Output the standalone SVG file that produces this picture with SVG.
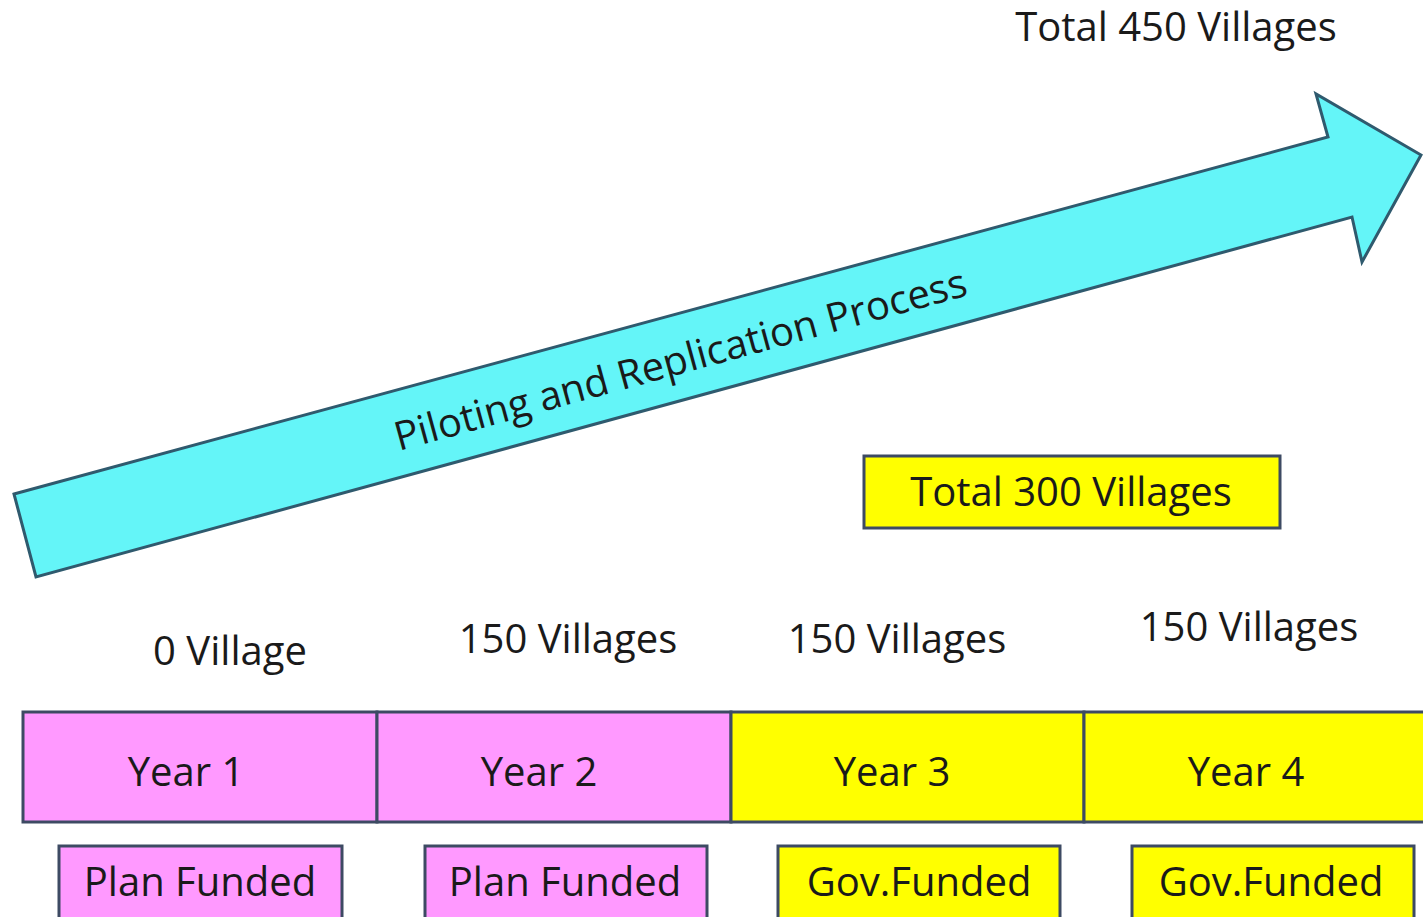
<svg xmlns="http://www.w3.org/2000/svg" width="1423" height="917" viewBox="0 0 1423 917">
<style>
text{font-family:"Open Sans","Liberation Sans",sans-serif;fill:#1a1a1a;text-anchor:middle}
.lbl{font-size:40px}
.box{stroke:#3d4a63;stroke-width:3}
.pink{fill:#ff99ff}
.yel{fill:#ffff00}
</style>
<rect width="1423" height="917" fill="#ffffff"/>
<g id="arrow">
<polygon points="14,494 1328,137 1316,94 1421,155 1362,262 1352,217 36,577" fill="#64f5f8" stroke="#2f5a6e" stroke-width="3" stroke-linejoin="miter"/>
<text class="lbl" transform="translate(684,373) rotate(-15.3)" font-size="41">Piloting and Replication Process</text>
</g>
<g id="total450"><text class="lbl" x="1176" y="41">Total 450 Villages</text></g>
<g id="total300">
<rect class="box yel" x="864" y="456" width="416" height="72"/>
<text class="lbl" x="1071" y="506">Total 300 Villages</text>
</g>
<g id="v0"><text class="lbl" x="230" y="665">0 Village</text></g>
<g id="v1"><text class="lbl" x="568" y="653">150 Villages</text></g>
<g id="v2"><text class="lbl" x="897" y="653">150 Villages</text></g>
<g id="v3"><text class="lbl" x="1249" y="641">150 Villages</text></g>
<g id="year1"><rect class="box pink" x="23" y="712" width="354" height="110"/><text class="lbl" x="186" y="786">Year 1</text></g>
<g id="year2"><rect class="box pink" x="377" y="712" width="354" height="110"/><text class="lbl" x="539" y="786">Year 2</text></g>
<g id="year3"><rect class="box yel" x="731" y="712" width="353" height="110"/><text class="lbl" x="892" y="786">Year 3</text></g>
<g id="year4"><rect class="box yel" x="1084" y="712" width="345" height="110"/><text class="lbl" x="1246" y="786">Year 4</text></g>
<g id="fund1"><rect class="box pink" x="59" y="846" width="283" height="80"/><text class="lbl" x="200" y="896">Plan Funded</text></g>
<g id="fund2"><rect class="box pink" x="425" y="846" width="282" height="80"/><text class="lbl" x="565" y="896">Plan Funded</text></g>
<g id="fund3"><rect class="box yel" x="778" y="846" width="282" height="80"/><text class="lbl" x="919" y="896">Gov.Funded</text></g>
<g id="fund4"><rect class="box yel" x="1132" y="846" width="282" height="80"/><text class="lbl" x="1271" y="896">Gov.Funded</text></g>
<g id="connectors"></g>
</svg>
